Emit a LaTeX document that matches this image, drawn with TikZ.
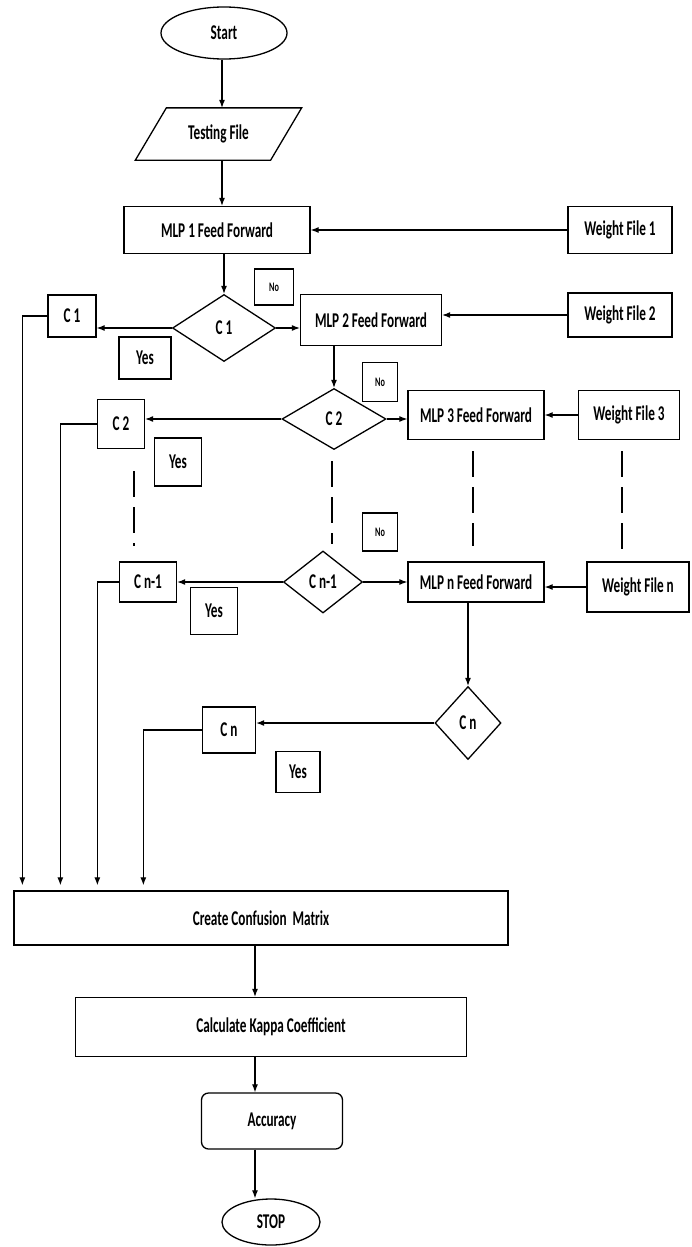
\documentclass[tikz,border=0pt]{standalone}
\usepackage{fontspec}
\setmainfont{Carlito}[FakeStretch=0.63]
\usetikzlibrary{shapes.geometric,arrows.meta}

\begin{document}
\begin{tikzpicture}[x=1pt,y=-1pt,
  base/.style={draw, line width=1.3pt, inner sep=0pt, align=center,
    font=\bfseries\fontsize{21}{22}\selectfont},
  box/.style={base, rectangle},
  tag/.style={base, rectangle, line width=1.1pt},
  smalltag/.style={tag, font=\bfseries\fontsize{13}{14}\selectfont},
  dec/.style={base, diamond},
  term/.style={base, ellipse},
  arr/.style={line width=1.2pt, -{Latex[length=8pt,width=6pt]}},
  dots/.style={line width=1.1pt, dash pattern=on 26pt off 10pt}
]
\useasboundingbox[fill=white] (0,0) rectangle (691,1247);

% terminals and input
\node[term, minimum width=126pt, minimum height=52pt] (start) at (224,33) {Start};
\node[base, draw=none, rectangle, minimum width=134pt, minimum height=51pt] (test) at (218.5,134) {Testing File};
\draw[line width=1.3pt] ([xshift=-15.5pt]test.south west) -- ([xshift=15.5pt]test.north west)
  -- ([xshift=15.5pt]test.north east) -- ([xshift=-15.5pt]test.south east) -- cycle;

% first stage
\node[box, minimum width=186pt, minimum height=47pt] (mlp1) at (217,230) {MLP 1 Feed Forward};
\node[box, minimum width=104pt, minimum height=47pt] (wf1) at (620,230) {Weight File 1};
\node[smalltag, minimum width=39pt, minimum height=36pt] (no1) at (274,287) {No};
\node[dec, minimum width=103pt, minimum height=67pt] (dc1) at (224,328) {C 1};
\node[box, minimum width=48pt, minimum height=42pt] (c1) at (72,316) {C 1};
\node[tag, minimum width=52pt, minimum height=42pt] (yes1) at (145,358) {Yes};

% second stage
\node[box, minimum width=141pt, minimum height=51pt] (mlp2) at (371,320) {MLP 2 Feed Forward};
\node[box, minimum width=104pt, minimum height=44pt] (wf2) at (620,315) {Weight File 2};
\node[smalltag, minimum width=35pt, minimum height=39pt] (no2) at (380,382) {No};
\node[dec, minimum width=104pt, minimum height=61pt] (dc2) at (334,419) {C 2};
\node[box, minimum width=47pt, minimum height=49pt] (c2) at (121,424) {C 2};
\node[tag, minimum width=47pt, minimum height=48pt] (yes2) at (178,462) {Yes};

% third stage
\node[box, minimum width=136pt, minimum height=49pt] (mlp3) at (476,415) {MLP 3 Feed Forward};
\node[box, minimum width=101pt, minimum height=49pt] (wf3) at (629,415) {Weight File 3};

% stage n-1
\node[smalltag, minimum width=35pt, minimum height=38pt] (no3) at (380,532) {No};
\node[dec, minimum width=79pt, minimum height=62pt] (dcn1) at (323,582) {C n-1};
\node[box, minimum width=57pt, minimum height=40pt] (cn1) at (148,582) {C n-1};
\node[tag, minimum width=47pt, minimum height=47pt] (yes3) at (214,611) {Yes};
\node[box, minimum width=136pt, minimum height=40pt] (mlpn) at (476,582) {MLP n Feed Forward};
\node[box, minimum width=102pt, minimum height=50pt] (wfn) at (638,587) {Weight File n};

% stage n
\node[dec, minimum width=66pt, minimum height=73pt] (dcn) at (468,723) {C n};
\node[box, minimum width=53pt, minimum height=46pt] (cn) at (229,730) {C n};
\node[tag, minimum width=44pt, minimum height=41pt] (yes4) at (298,772) {Yes};

% evaluation
\node[box, minimum width=494pt, minimum height=54pt] (ccm) at (261,918) {Create Confusion\ \ Matrix};
\node[box, minimum width=391pt, minimum height=59pt] (kappa) at (271,1027) {Calculate Kappa Coefficient};
\node[box, rounded corners=7pt, minimum width=141pt, minimum height=56pt] (acc) at (272,1121) {Accuracy};
\node[term, minimum width=98pt, minimum height=46pt] (stop) at (271,1222) {STOP};
\coordinate (spine) at (255,0);
\coordinate (entry) at (222,0);

% main flow
\draw[arr] (start.south -| entry) -- (test.north -| entry);
\draw[arr] (test.south -| entry) -- (mlp1.north -| entry);
\draw[arr] (mlp1.south -| dc1.north) -- (dc1.north);
\draw[arr] (wf1.west) -- (wf1.west -| mlp1.east);
\draw[arr] (dc1.west) -- (dc1.west -| c1.east);
\draw[arr] (dc1.east) -- (dc1.east -| mlp2.west);
\draw[arr] (wf2.west) -- (wf2.west -| mlp2.east);
\draw[arr] (mlp2.south -| dc2.north) -- (dc2.north);
\draw[arr] (dc2.west) -- (dc2.west -| c2.east);
\draw[arr] (dc2.east) -- (dc2.east -| mlp3.west);
\draw[arr] (wf3.west) -- (wf3.west -| mlp3.east);
\draw[arr] (dcn1.west) -- (dcn1.west -| cn1.east);
\draw[arr] (dcn1.east) -- (dcn1.east -| mlpn.west);
\draw[arr] (wfn.west) -- (wfn.west -| mlpn.east);
\draw[arr] (mlpn.south -| dcn.north) -- (dcn.north);
\draw[arr] (dcn.west) -- (dcn.west -| cn.east);

% continuation between stages
\draw[dots, shorten <=22pt, shorten >=15pt] ([xshift=13pt]c2.south) -- ([xshift=13pt]c2.south |- cn1.north);
\draw[dots, shorten <=11pt, shorten >=6pt] ([xshift=-2pt]dc2.south) -- ([xshift=-2pt]dc2.south |- dcn1.north);
\draw[dots, shorten <=11pt, shorten >=15pt] ([xshift=-3pt]mlp3.south) -- ([xshift=-3pt]mlp3.south |- mlpn.north);
\draw[dots, shorten <=11pt, shorten >=9pt] ([xshift=-7pt]wf3.south) -- ([xshift=-7pt]wf3.south |- wfn.north);

% classes into the confusion matrix
\draw[arr, shorten >=5pt] (c1.west) -| ([xshift=9pt]ccm.north west);
\draw[arr, shorten >=5pt] (c2.west) -| ([xshift=47pt]ccm.north west);
\draw[arr, shorten >=5pt] (cn1.west) -| ([xshift=84pt]ccm.north west);
\draw[arr, shorten >=5pt] (cn.west) -| ([xshift=130pt]ccm.north west);

% evaluation chain
\draw[arr] (ccm.south -| spine) -- (kappa.north -| spine);
\draw[arr] (kappa.south -| spine) -- (acc.north -| spine);
\draw[arr] (acc.south -| spine) -- (stop.north -| spine);
\end{tikzpicture}
\end{document}
